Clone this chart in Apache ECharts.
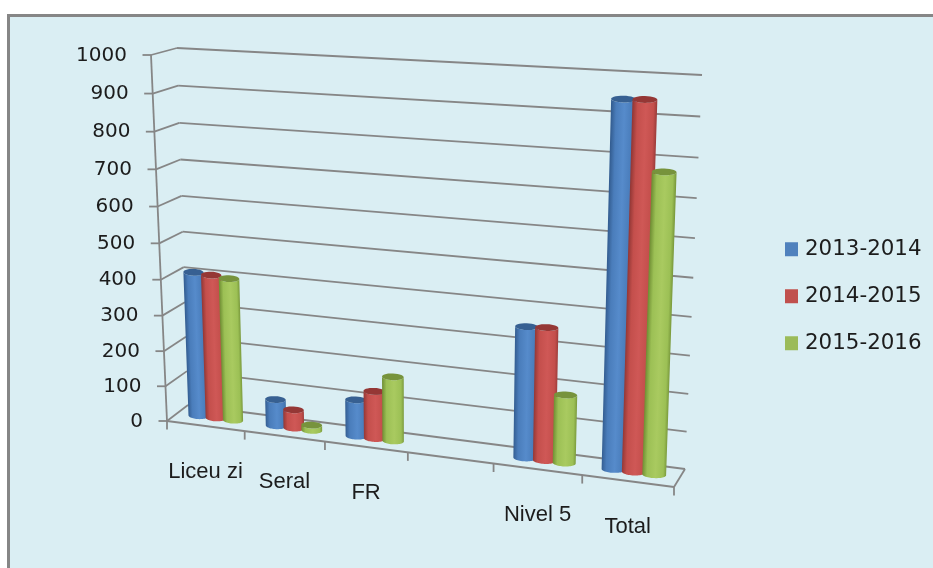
<!DOCTYPE html>
<html>
<head>
<meta charset="utf-8">
<style>html,body{margin:0;padding:0;background:#fff}#chart{width:933px;height:568px}</style>
<script src="https://cdn.jsdelivr.net/npm/echarts@6/dist/echarts.min.js"></script>
</head>
<body>
<div id="chart"></div>
<script>
// Enrolment by programme, one empty slot between FR and Nivel 5
const categories = ['Liceu zi', 'Seral', 'FR', '', 'Nivel 5', 'Total'];
const valueTicks = [0, 100, 200, 300, 400, 500, 600, 700, 800, 900, 1000];
const yearNames = ['2013-2014', '2014-2015', '2015-2016'];
const values2013 = [409, 75, 102, null, 352, 943];
const values2014 = [406, 52, 132, null, 355, 945];
const values2015 = [401, 15, 178, null, 183, 773];

// Perspective box: corners of the back wall and of the front plane
const BOX = {
  backBottomLeft: [188, 405], backBottomRight: [685, 469],
  backTopLeft: [177, 48], backTopRight: [702, 75],
  frontBottomLeft: [167, 421], frontBottomRight: [674, 487],
  frontTopLeft: [151, 55], frontTopRight: [686, 83]
};
const FORESHORTEN_X = 1.105;
const FORESHORTEN_Y = 1.06;
const BAR_DEPTH = 0.5;
const BAR_SPACING = 0.225;
const BAR_RADIUS = 0.13;
const CAP_MINOR = 3.4;
const CAP_TILT = 0.35;
const AXIS_COLOR = '#868686';
const TEXT_COLOR = '#1c1c1c';

const SHADES = [
  { edgeL: '#345e92', mid1: '#4a7dbb', mid2: '#568bcb', edgeR: '#3f70a8', cap: '#376092', legend: '#4f81bd' },
  { edgeL: '#953836', mid1: '#c44f4c', mid2: '#cf5856', edgeR: '#a03e3c', cap: '#953735', legend: '#c0504d' },
  { edgeL: '#708f34', mid1: '#9cc055', mid2: '#a9ca60', edgeR: '#7b9b3d', cap: '#77933c', legend: '#9bbb59' }
];

function lerp(a, b, t) { return [a[0] + (b[0] - a[0]) * t, a[1] + (b[1] - a[1]) * t]; }
function ease(t, q) { return t / (t + q * (1 - t)); }

// Maps normalised axis position (u along categories, v along values, w back to front) to the page
function project(u, v, w) {
  const tu = ease(u, FORESHORTEN_X), tv = ease(v, FORESHORTEN_Y);
  const back = lerp(lerp(BOX.backBottomLeft, BOX.backBottomRight, tu), lerp(BOX.backTopLeft, BOX.backTopRight, tu), tv);
  const front = lerp(lerp(BOX.frontBottomLeft, BOX.frontBottomRight, tu), lerp(BOX.frontTopLeft, BOX.frontTopRight, tu), tv);
  return lerp(back, front, w);
}
function normalise(point, cs) {
  return [(point[0] - cs.x) / cs.width, (cs.y + cs.height - point[1]) / cs.height];
}
function line(a, b, width) {
  return { type: 'line', shape: { x1: a[0], y1: a[1], x2: b[0], y2: b[1] },
    style: { stroke: AXIS_COLOR, lineWidth: width || 1.8 } };
}

// Back-wall and side-wall rules with the tick and label of each value
function renderValueTick(params, api) {
  const cs = params.coordSys;
  const v = normalise(api.coord([0, api.value(0)]), cs)[1];
  const front = project(0, v, 1), corner = project(0, v, 0), end = project(1, v, 0);
  return { type: 'group', children: [
    line(front, corner), line(corner, end),
    line([front[0] - 8.5, front[1]], front),
    { type: 'text', style: { x: front[0] - 24, y: front[1] + 0.5, text: String(api.value(0)),
      fill: TEXT_COLOR, font: '20px "DejaVu Sans"', textAlign: 'right', textVerticalAlign: 'middle' } }
  ] };
}

// Floor edges, category ticks and category labels
function renderCategory(params, api) {
  const cs = params.coordSys;
  const i = api.value(0);
  const band = api.size([1, 0])[0];
  const centre = normalise(api.coord([i, 0]), cs)[0];
  const right = centre + band / 2 / cs.width;
  const tickAt = project(right, 0, 1);
  const children = [line(tickAt, [tickAt[0], tickAt[1] + 8.5])];
  if (i === 0) {
    const left = project(0, 0, 1);
    children.push(line(left, [left[0], left[1] + 8.5]));
    children.push(line(left, project(1, 0, 1)));
    children.push(line(left, project(0, 1, 1)));
    children.push(line(project(1, 0, 1), project(1, 0, 0)));
  }
  const labelAt = project(centre, 0, 1);
  children.push({ type: 'text', style: { x: labelAt[0], y: labelAt[1] + 46, text: categories[i],
    fill: TEXT_COLOR, font: '22px "Liberation Sans"', textAlign: 'center', textVerticalAlign: 'middle' } });
  return { type: 'group', children };
}

// A shaded cylinder standing on the floor at mid depth
function cylinderRenderer(seriesOrder) {
  const shade = SHADES[seriesOrder];
  return function (params, api) {
    const val = api.value(1);
    if (val == null || isNaN(val)) return null;
    const cs = params.coordSys;
    const band = api.size([1, 0])[0] / cs.width;
    const u = normalise(api.coord([api.value(0), 0]), cs)[0] + (seriesOrder - 1) * BAR_SPACING * band;
    const v = normalise(api.coord([api.value(0), val]), cs)[1];
    const r = BAR_RADIUS * band;
    const ring = (vv, a0, a1) => {
      const c = project(u, vv, BAR_DEPTH), pr = project(u + r, vv, BAR_DEPTH), out = [];
      const pl = project(u - r, vv, BAR_DEPTH);
      const mx = (pr[0] - pl[0]) / 2, my = (pr[1] - pl[1]) / 2 * CAP_TILT;
      for (let k = 0; k <= 28; k++) {
        const a = a0 + (a1 - a0) * k / 28;
        out.push([c[0] + Math.cos(a) * mx, c[1] + Math.cos(a) * my + Math.sin(a) * CAP_MINOR]);
      }
      return out;
    };
    const L = project(u - r, 0, BAR_DEPTH), R = project(u + r, 0, BAR_DEPTH);
    const T = project(u, v, BAR_DEPTH), B = project(u, 0, BAR_DEPTH);
    const dx = T[0] - B[0], dy = T[1] - B[1], len = Math.hypot(dx, dy) || 1;
    const nx = -dy / len, ny = dx / len;
    const span = (R[0] - L[0]) * nx + (R[1] - L[1]) * ny;
    const fill = {
      type: 'linear', global: true,
      x: L[0], y: L[1], x2: L[0] + nx * span, y2: L[1] + ny * span,
      colorStops: [
        { offset: 0, color: shade.edgeL }, { offset: 0.2, color: shade.mid1 },
        { offset: 0.55, color: shade.mid2 }, { offset: 0.87, color: shade.mid1 },
        { offset: 1, color: shade.edgeR }
      ]
    };
    const body = ring(v, Math.PI, 0).concat(ring(0, 0, Math.PI));
    return { type: 'group', children: [
      { type: 'polygon', shape: { points: body }, style: { fill } },
      { type: 'polygon', shape: { points: ring(v, 0, Math.PI * 2) }, style: { fill: shade.cap } }
    ] };
  };
}

const yearValues = [values2013, values2014, values2015];
const chart = echarts.init(document.getElementById('chart'));
chart.setOption({
  animation: false,
  backgroundColor: '#ffffff',
  color: SHADES.map(s => s.legend),
  graphic: [{
    type: 'rect', z: 0, silent: true,
    shape: { x: 8.5, y: 15.5, width: 1000, height: 1000 },
    style: { fill: '#daeef3', stroke: AXIS_COLOR, lineWidth: 3 }
  }],
  grid: { left: 170, right: 230, top: 60, bottom: 100 },
  xAxis: { type: 'category', data: categories, show: false },
  yAxis: { type: 'value', min: 0, max: 1000, interval: 100, show: false },
  legend: {
    data: yearNames, orient: 'vertical', left: 785, top: 237, padding: 0,
    itemWidth: 13, itemHeight: 14, itemGap: 22.5, selectedMode: false,
    icon: 'rect',
    textStyle: { fontFamily: 'DejaVu Sans', fontSize: 21.4, lineHeight: 24.5, color: TEXT_COLOR, padding: [0, 0, 0, 2] }
  },
  series: [
    { type: 'custom', name: 'rules', z: 1, silent: true, clip: false,
      data: valueTicks.map(t => [t]), encode: { x: -1, y: 0 }, renderItem: renderValueTick },
    { type: 'custom', name: 'floor', z: 1, silent: true, clip: false,
      data: categories.map((c, i) => [i]), encode: { x: 0, y: -1 }, renderItem: renderCategory }
  ].concat(yearNames.map((name, s) => ({
    type: 'custom', name, z: 3 + s, clip: false,
    itemStyle: { color: SHADES[s].legend },
    data: categories.map((c, i) => [i, yearValues[s][i]]),
    encode: { x: 0, y: 1 }, renderItem: cylinderRenderer(s)
  })))
});
</script>
</body>
</html>
